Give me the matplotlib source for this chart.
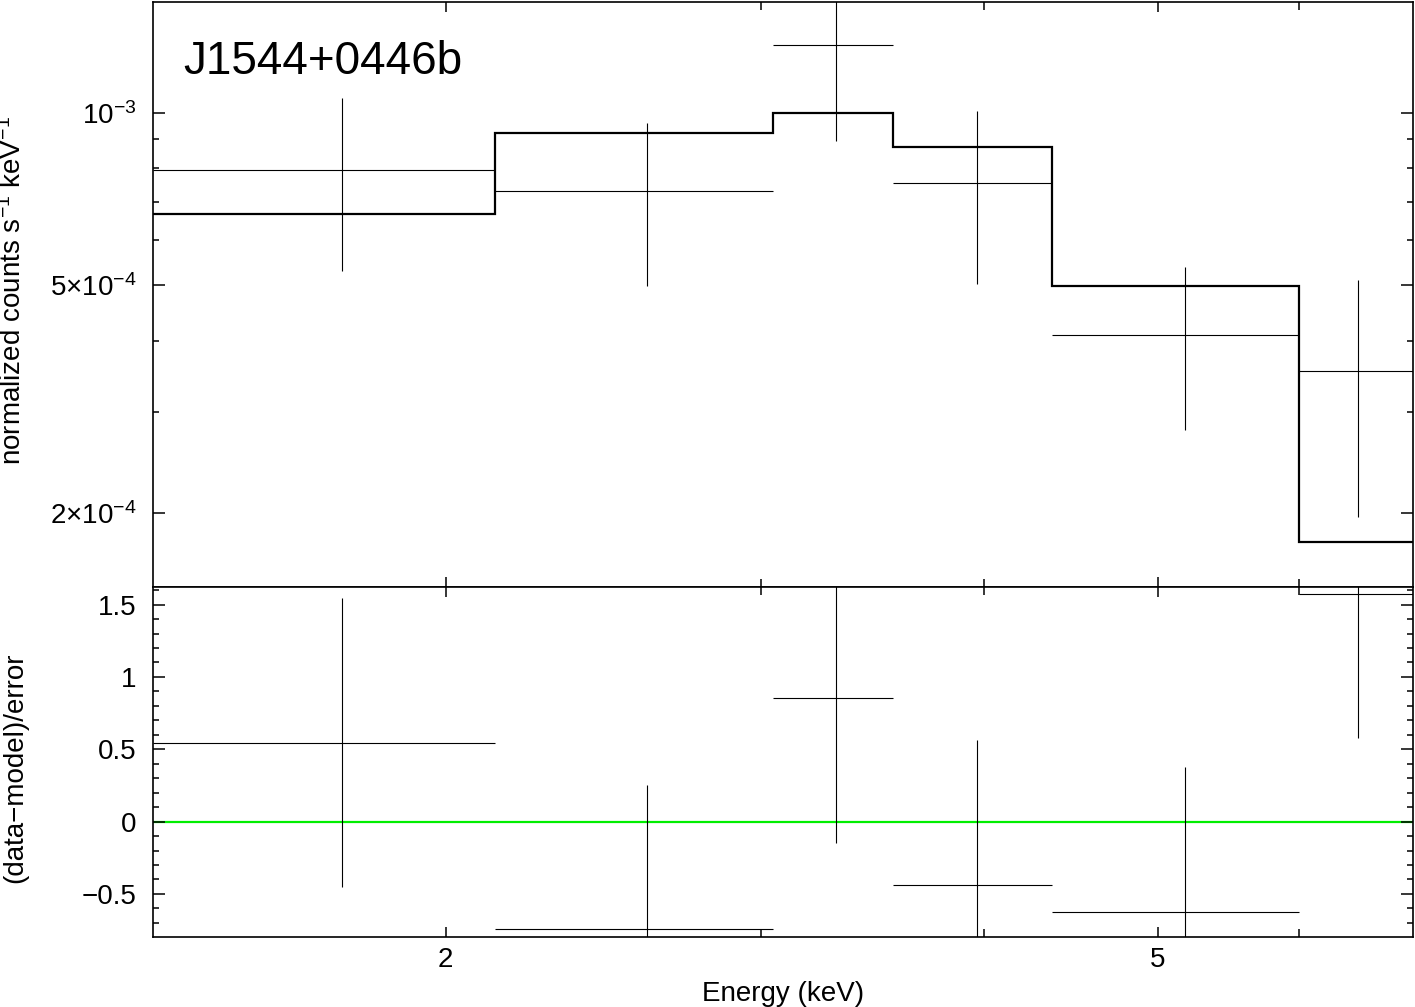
import matplotlib
matplotlib.use("Agg")
import matplotlib.pyplot as plt
from matplotlib.ticker import FixedLocator, FixedFormatter, NullFormatter

plt.rcParams["font.family"] = ["Liberation Sans", "DejaVu Sans"]
plt.rcParams["mathtext.fontset"] = "custom"
plt.rcParams["mathtext.rm"] = "Liberation Sans"
plt.rcParams["mathtext.it"] = "Liberation Sans:italic"
plt.rcParams["mathtext.bf"] = "Liberation Sans:bold"

# ── Spectrum ─────────────────────────────────────────────────────────────────
bin_edges  = [1.372, 2.130, 3.049, 3.558, 4.362, 5.997, 6.945]   # keV
energy     = [1.751, 2.590, 3.304, 3.960, 5.180, 6.471]          # bin centres
energy_lo  = [1.372, 2.130, 3.049, 3.558, 4.362, 5.997]
energy_hi  = [2.130, 3.049, 3.558, 4.362, 5.997, 6.945]
rate       = [7.95e-4, 7.30e-4, 1.315e-3, 7.54e-4, 4.09e-4, 3.54e-4]
rate_err   = [2.65e-4, 2.32e-4, 4.22e-4, 2.52e-4, 1.30e-4, 1.57e-4]
model      = [6.66e-4, 9.23e-4, 1.00e-3, 8.72e-4, 4.99e-4, 1.78e-4]
resid      = [0.546, -0.745, 0.854, -0.437, -0.624, 1.575]
resid_err  = [1.0, 1.0, 1.0, 1.0, 1.0, 1.0]

source = "J1544+0446b"

y_major = [2e-4, 5e-4, 1e-3]
y_major_labels = [r"$2{\times}10^{-4}$", r"$5{\times}10^{-4}$", r"$10^{-3}$"]
y_minor = [3e-4, 4e-4, 6e-4, 7e-4, 8e-4, 9e-4]
x_major = [2, 5]
x_major_labels = ["2", "5"]
x_minor = [3, 4, 6]

FS = 20


def style_axis(ax):
    for sp in ax.spines.values():
        sp.set_linewidth(1.2)
    ax.tick_params(which="both", direction="in", top=True, right=True,
                   width=1.1, labelsize=FS)
    ax.tick_params(axis="x", which="major", length=7, pad=7)
    ax.tick_params(axis="x", which="minor", length=6)
    ax.tick_params(axis="y", which="major", length=8.5, pad=12)
    ax.tick_params(axis="y", which="minor", length=4.5)
    ax.set_xscale("log")
    ax.xaxis.set_major_locator(FixedLocator(x_major))
    ax.xaxis.set_minor_locator(FixedLocator(x_minor))
    ax.xaxis.set_minor_formatter(NullFormatter())
    ax.set_xlim(bin_edges[0], bin_edges[-1])


fig = plt.figure(figsize=(14.15, 10.07), dpi=100)
ax1 = fig.add_axes([0.1081, 0.4174, 0.8905, 0.5809])
ax2 = fig.add_axes([0.1081, 0.0692, 0.8905, 0.3482], sharex=ax1)

# ── Top: data + model ─────────────────────────────────────────────────────────
xerr = [[e - lo for e, lo in zip(energy, energy_lo)],
        [hi - e for e, hi in zip(energy, energy_hi)]]
ax1.errorbar(energy, rate, xerr=xerr, yerr=rate_err, fmt="none",
             ecolor="black", elinewidth=0.8, capsize=0)
ax1.stairs(model, bin_edges, baseline=None, color="black", lw=1.6)
style_axis(ax1)
ax1.set_yscale("log")
ax1.set_ylim(1.487e-4, 1.564e-3)
ax1.yaxis.set_major_locator(FixedLocator(y_major))
ax1.yaxis.set_major_formatter(FixedFormatter(y_major_labels))
ax1.yaxis.set_minor_locator(FixedLocator(y_minor))
ax1.yaxis.set_minor_formatter(NullFormatter())
ax1.tick_params(axis="x", labelbottom=False)
ax1.text(0.024, 0.876, source, transform=ax1.transAxes, fontsize=33,
         ha="left", va="baseline")

# ── Bottom: residuals ─────────────────────────────────────────────────────────
ax2.axhline(0, color="#00ee00", lw=1.6, zorder=1)
ax2.errorbar(energy, resid, xerr=xerr, yerr=resid_err, fmt="none",
             ecolor="black", elinewidth=0.8, capsize=0, zorder=2)
style_axis(ax2)
ax2.set_ylim(-0.8, 1.624)
ax2.set_yticks([-0.5, 0, 0.5, 1, 1.5])
ax2.set_yticklabels(["\u22120.5", "0", "0.5", "1", "1.5"])
ax2.yaxis.set_minor_locator(FixedLocator(
    [v / 10 for v in range(-7, 17) if v % 5 != 0]))
ax2.xaxis.set_major_formatter(FixedFormatter(x_major_labels))
ax2.xaxis.set_major_locator(FixedLocator(x_major))

fig.text(0.0095, 0.7115, "normalized counts s$^{-1}$ keV$^{-1}$", rotation=90,
         ha="center", va="center", fontsize=FS)
fig.text(0.0105, 0.2375, "(data\u2212model)/error", rotation=90,
         ha="center", va="center", fontsize=FS)
fig.text(0.5535, 0.0125, "Energy (keV)", ha="center", va="center", fontsize=FS)

fig.savefig("out.png", dpi=100)
